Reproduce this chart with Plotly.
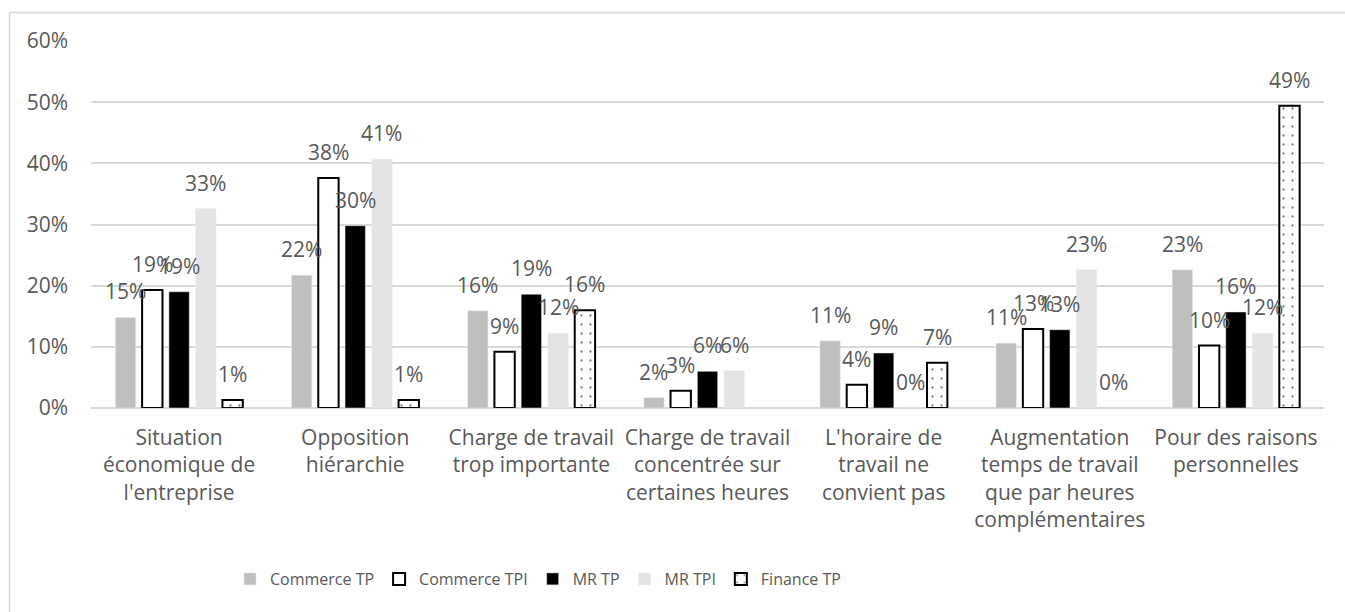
import plotly.graph_objects as go

categories = [
    "Situation<br>économique de<br>l'entreprise",
    "Opposition<br>hiérarchie",
    "Charge de travail<br>trop importante",
    "Charge de travail<br>concentrée sur<br>certaines heures",
    "L'horaire de<br>travail ne<br>convient pas",
    "Augmentation<br>temps de travail<br>que par heures<br>complémentaires",
    "Pour des raisons<br>personnelles",
]

commerce_tp = [14.8, 21.7, 15.9, 1.7, 11.0, 10.6, 22.6]
commerce_tpi = [19.3, 37.6, 9.2, 2.8, 3.8, 12.9, 10.2]
mr_tp = [19.0, 29.8, 18.6, 6.0, 9.0, 12.8, 15.7]
mr_tpi = [32.6, 40.7, 12.2, 6.1, 0.0, 22.6, 12.2]
finance_tp = [1.3, 1.3, 16.0, None, 7.4, 0.0, 49.4]

y_ticks = [0, 10, 20, 30, 40, 50, 60]
y_ticktext = [f"{v}%" for v in y_ticks]

FONT = "Open Sans"
TEXT_COLOR = "#595959"
GRID = "#D9D9D9"
BARGAP = 0.24
BARGROUPGAP = 0.24
LABEL_SIZE = 21


def outline_widths(values, width=2):
    # zero-height bars get no outline so nothing shows on the baseline
    return [0 if (v is None or v == 0) else width for v in values]


series = [
    ("Commerce TP", commerce_tp, dict(color="#BFBFBF")),
    ("Commerce TPI", commerce_tpi, dict(
        color="#FFFFFF", line=dict(color="#000000", width=outline_widths(commerce_tpi)))),
    ("MR TP", mr_tp, dict(color="#000000")),
    ("MR TPI", mr_tpi, dict(color="#E4E4E4")),
    ("Finance TP", finance_tp, dict(
        color="#FFFFFF",
        line=dict(color="#000000", width=outline_widths(finance_tp)),
        pattern=dict(shape=".", fgcolor="#000000", bgcolor="#FFFFFF",
                     size=9, solidity=0.05, fillmode="overlay"),
    )),
]

x_pos = list(range(len(categories)))

fig = go.Figure()
for name, values, marker in series:
    fig.add_trace(go.Bar(
        x=x_pos, y=values, name=name, marker=marker,
        hovertemplate="%{y:.0f}%<extra>" + name + "</extra>",
    ))

# value labels above each bar, centred on the bar inside its group
n = len(series)
slot = (1 - BARGAP) / n
annotations = []
for j, (name, values, _) in enumerate(series):
    for i, v in enumerate(values):
        if v is None:
            continue
        annotations.append(dict(
            x=i + (j - (n - 1) / 2) * slot, y=v, xref="x", yref="y",
            text=f"{v:.0f}%", showarrow=False, yanchor="bottom",
            yshift=10, font=dict(family=FONT, size=LABEL_SIZE, color=TEXT_COLOR),
        ))

# outer chart frame
L, R, T, B = 91, 1324, 41, 408
W, H = R - L, B - T
fig.add_shape(
    type="rect", xref="paper", yref="paper", layer="below",
    x0=(9.5 - L) / W, x1=(1360 - L) / W,
    y0=(B - 640) / H, y1=1 + (T - 12.5) / H,
    line=dict(color=GRID, width=1.5), fillcolor="rgba(0,0,0,0)",
)

fig.update_layout(
    width=1345, height=612,
    margin=dict(l=L, r=1345 - R, t=T, b=612 - B),
    paper_bgcolor="white", plot_bgcolor="white",
    barmode="group", bargap=BARGAP, bargroupgap=BARGROUPGAP,
    font=dict(family=FONT, size=LABEL_SIZE, color=TEXT_COLOR),
    annotations=annotations,
    showlegend=True,
    legend=dict(
        orientation="h", x=(230 - L) / W, xanchor="left",
        y=(B - 579) / H, yanchor="middle",
        font=dict(family=FONT, size=16, color=TEXT_COLOR),
        traceorder="normal",
    ),
    xaxis=dict(
        range=[-0.5, len(categories) - 0.5],
        tickvals=x_pos, ticktext=categories,
        showgrid=False, zeroline=False, showline=False,
        ticks="", tickfont=dict(family=FONT, size=LABEL_SIZE, color=TEXT_COLOR),
        ticklabelstandoff=15,
    ),
    yaxis=dict(
        range=[0, 60], tickvals=y_ticks, ticktext=y_ticktext,
        showgrid=True, gridcolor=GRID, gridwidth=1.5,
        zeroline=True, zerolinecolor=GRID, zerolinewidth=1.5,
        showline=False, ticks="",
        tickfont=dict(family=FONT, size=LABEL_SIZE, color=TEXT_COLOR),
        ticklabelstandoff=22,
    ),
)

fig.write_html("out.html")
